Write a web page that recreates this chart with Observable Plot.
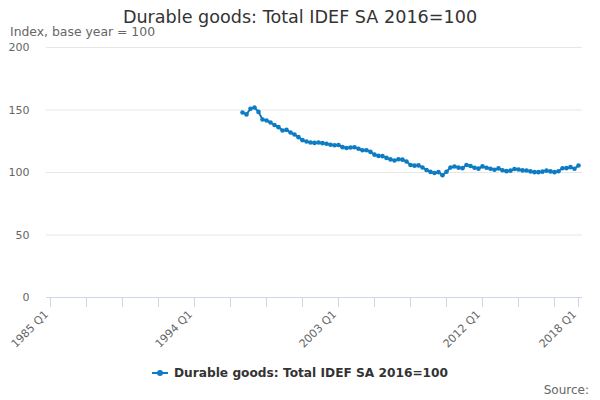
<!DOCTYPE html>
<html>
<head>
<meta charset="utf-8">
<script src="https://cdn.jsdelivr.net/npm/d3@7"></script>
<script src="https://cdn.jsdelivr.net/npm/@observablehq/plot@0.6"></script>
<style>
  body { margin: 0; background: #fff; font-family: "DejaVu Sans", sans-serif; }
  #wrap { width: 600px; height: 400px; position: relative; overflow: hidden; }
  #header { position: relative; height: 40px; }
  #title { position: absolute; left: 0; width: 600px; top: 8px; text-align: center; font-size: 17.6px; line-height: 18px; color: #333; }
  #subtitle { position: absolute; left: 10px; top: 26px; font-size: 12.4px; line-height: 12px; color: #666; }
  #legend { height: 26px; display: flex; justify-content: center; align-items: center; font-size: 12.2px; font-weight: bold; color: #333; }
  #legend .sym { position: relative; width: 16px; height: 2px; background: #0e7cc2; margin-right: 6px; }
  #legend .sym::after { content: ""; position: absolute; left: 5px; top: -2px; width: 6px; height: 6px; border-radius: 50%; background: #0e7cc2; }
  #source { position: absolute; right: 11px; top: 383px; font-size: 12px; color: #666; }
</style>
</head>
<body>
<div id="wrap">
  <div id="header">
    <div id="title">Durable goods: Total IDEF SA 2016=100</div>
    <div id="subtitle">Index, base year = 100</div>
  </div>
  <div id="chart"></div>
  <div id="legend"><span class="sym"></span><span>Durable goods: Total IDEF SA 2016=100</span></div>
  <div id="source">Source:</div>
</div>
<script>
// Axis categories: quarters from 1985 Q1 to 2018 Q1
const firstYear = 1985;
const lastYear = 2018;
const quarterNames = ["Q1", "Q2", "Q3", "Q4"];
const categories = [];
for (let y = firstYear; y <= lastYear; y++) {
  for (const q of quarterNames) {
    if (y === lastYear && q !== "Q1") break;
    categories.push(y + " " + q);
  }
}
// Series starts at 1997 Q1
const seriesStart = "1997 Q1";
const values = [148,146.5,151,152,148.5,142.4,141.6,140,138,136.3,
  133.6,134.1,132,130.4,128.3,125.9,124.8,124,123.7,124,
  123.5,123,122.2,121.8,122,120.3,119.6,120,120.2,119,
  117.8,117.8,116.5,114.3,113.3,113.1,111.7,110.5,109.6,110.6,
  110.3,108.8,106,105.5,105.7,104,102,100.5,99.6,100.3,
  97.8,100.6,104,104.8,103.9,103.5,106,105.2,103.8,103.1,
  104.9,103.8,103,102.2,103.3,101.8,101.1,101.5,102.8,102.4,
  101.7,101.6,100.9,100.3,100.3,100.7,101.5,100.9,100.3,101,
  103.4,103.5,104.3,103,105.6];
const tickLabels = ["1985 Q1", "1994 Q1", "2003 Q1", "2012 Q1", "2018 Q1"];
const yTicks = [0, 50, 100, 150, 200];

const startIdx = categories.indexOf(seriesStart);
const data = values.map((v, i) => ({q: categories[startIdx + i], v}));
const tickCats = categories.filter((c, i) => i % 9 === 0 || i === categories.length - 1);
const color = "#0e7cc2";

const chart = Plot.plot({
  width: 600,
  height: 320,
  marginTop: 7,
  marginBottom: 63,
  marginLeft: 46,
  marginRight: 18,
  style: {fontFamily: "DejaVu Sans, sans-serif", fontSize: "11px", color: "#666", background: "white", overflow: "visible"},
  x: {type: "point", domain: categories, padding: 0, axis: null},
  y: {domain: [0, 200], axis: null},
  marks: [
    Plot.gridY(yTicks.filter(d => d > 0), {stroke: "#e6e6e6", strokeOpacity: 1}),
    Plot.ruleY([0], {stroke: "#ccd6eb"}),
    Plot.axisY({ticks: yTicks, tickSize: 0, tickPadding: 17, fill: "#666", label: null}),
    Plot.axisX({ticks: tickCats, tickSize: 10, stroke: "#ccd6eb", strokeOpacity: 1, label: null, tickFormat: () => ""}),
    Plot.axisX({ticks: tickLabels, tickSize: 0, tickPadding: 15, dx: -4, tickRotate: -45, fill: "#666", label: null}),
    Plot.line(data, {x: "q", y: "v", stroke: color, strokeWidth: 2}),
    Plot.dot(data, {x: "q", y: "v", fill: color, r: 2.3})
  ]
});
document.getElementById("chart").appendChild(chart);
</script>
</body>
</html>
